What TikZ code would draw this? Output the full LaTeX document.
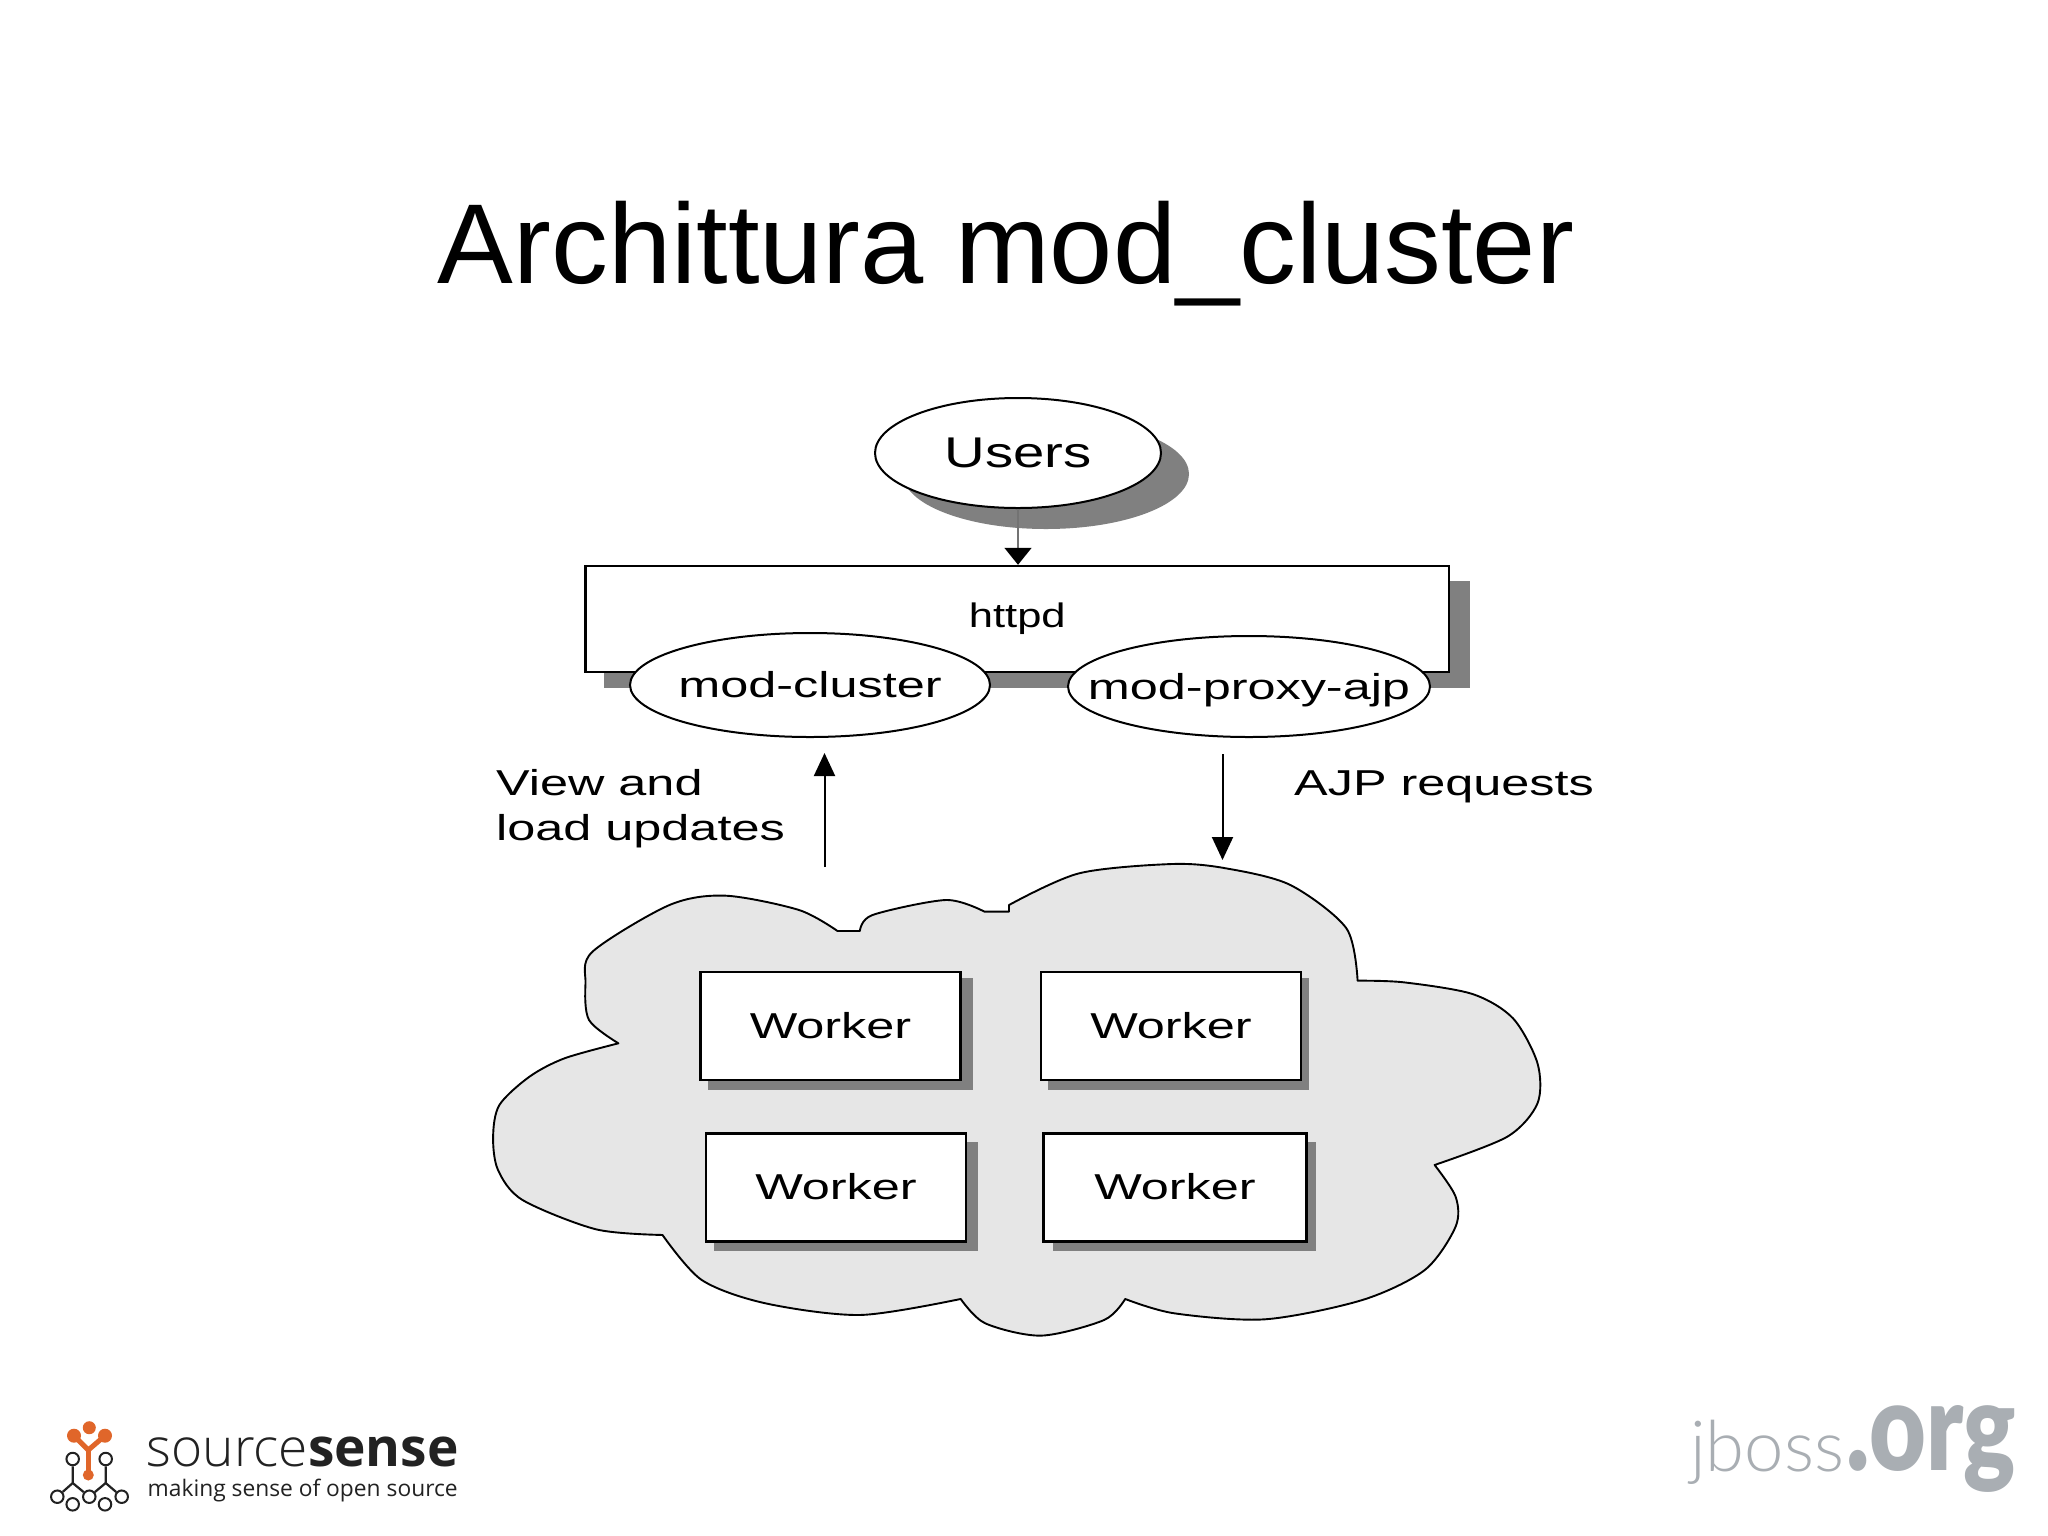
\documentclass[tikz,border=0pt]{standalone}
\usepackage{fontspec}
\usepackage{graphicx}
\setmainfont{Liberation Sans}
\newfontfamily\logofont{Open Sans}
\newfontfamily\logothin{Open Sans Light}
\newfontfamily\logolight{Lato Light}
\newfontfamily\logoblack{Lato Black}
\usetikzlibrary{shapes.geometric,arrows.meta}
\definecolor{shade}{HTML}{808080}
\definecolor{cloudgrey}{HTML}{E6E6E6}
\definecolor{logoorange}{HTML}{E0662A}
\definecolor{logodark}{HTML}{222222}
\definecolor{jbossgrey}{HTML}{A9AEB3}
\newcommand{\wdtext}[2]{\scalebox{#1}[1]{#2}}
\newcommand{\lab}[1]{\wdtext{1.40}{#1}}
\tikzset{
  x=1pt,y=-1pt,
  labelfont/.style={font=\fontsize{36}{45}\selectfont,text=black},
  boxnode/.style={draw=black,line width=2.4pt,fill=white,rectangle,inner sep=0pt,labelfont},
  ovalnode/.style={draw=black,line width=2pt,fill=white,ellipse,inner sep=0pt},
  ovaltext/.style={labelfont,inner sep=0pt},
  shadowfill/.style={fill=shade,draw=none},
  connector/.style={draw=black,line width=2pt,-{Triangle[length=23pt,width=21pt]}},
  thinconnector/.style={draw=black!55,line width=1.5pt,-{Triangle[length=17pt,width=27pt,color=black]}},
  freelabel/.style={labelfont,inner sep=0pt,align=left},
  cloudshape/.style={fill=cloudgrey,draw=black,line width=1.9pt,line join=round},
  logoring/.style={draw=logodark,line width=2pt,fill=white,circle,inner sep=0pt,minimum size=12.5pt},
  logodot/.style={fill=logoorange,circle,inner sep=0pt,draw=none},
  logotrace/.style={draw=logodark,line width=2.2pt,line join=round},
  logostem/.style={draw=logoorange,line width=5pt,line cap=round,line join=round},
}
\begin{document}
\begin{tikzpicture}
\useasboundingbox[fill=white] (0,0) rectangle (2048,1535);

% title
\node[anchor=base west,inner sep=0pt,font=\fontsize{113.6}{114}\selectfont] (title) at (437.5,283) {Archittura mod\_cluster};

% cloud
\begin{scope}[xshift=470pt,yshift=-850pt,x=0.7pt,y=-0.3333pt]
\draw[cloudshape]
  plot[smooth,tension=.5] coordinates{(770,165)(870,70)(1003,42)(1080,55)(1172,105)(1252,235)(1268,392)}
  -- plot[smooth,tension=.5] coordinates{(1268,392)(1334,397)(1432,432)(1490,505)(1525,640)(1525,760)(1482,860)(1378,945)}
  -- plot[smooth,tension=.5] coordinates{(1378,945)(1408,1040)(1408,1130)(1364,1260)(1275,1350)(1136,1408)(1006,1390)(936,1347)}
  -- plot[smooth,tension=.5] coordinates{(936,1347)(906,1410)(816,1457)(736,1420)(701,1347)}
  -- plot[smooth,tension=.5] coordinates{(701,1347)(558,1395)(422,1360)(331,1290)(275,1155)}
  -- plot[smooth,tension=.5] coordinates{(275,1155)(180,1138)(75,1050)(40,960)(33,860)(42,765)(85,680)(135,625)(212,580)}
  -- plot[smooth,tension=.5] coordinates{(212,580)(170,510)(165,400)(175,305)(285,165)(365,137)(470,180)(525,243)}
  -- (557,243)
  -- plot[smooth,tension=.5] coordinates{(557,243)(575,195)(680,150)(735,185)}
  -- (770,185) -- cycle;
\end{scope}

% shadows
\fill[shadowfill] (1046,474) ellipse [x radius=143pt,y radius=55pt];
\fill[shadowfill] (604,581) rectangle (1470,688);
\fill[shadowfill] (708,978) rectangle (972.6,1090);
\fill[shadowfill] (1047.5,978) rectangle (1309.3,1090);
\fill[shadowfill] (713.6,1142) rectangle (978.2,1251);
\fill[shadowfill] (1053,1142) rectangle (1315.6,1251);

% httpd and modules
\node[boxnode,minimum width=863.5pt,minimum height=106pt,text height=16pt,text depth=0pt,font=\fontsize{34}{34}\selectfont] (httpd) at (1017.25,619) {\wdtext{1.28}{httpd}};
\node[ovalnode,minimum width=286pt,minimum height=110pt,
      label={[ovaltext,font=\fontsize{43}{43}\selectfont,text height=28pt,text depth=0pt]center:\wdtext{1.31}{Users}}] (users) at (1018,453) {};
\node[ovalnode,minimum width=360pt,minimum height=104pt,
      label={[ovaltext,text height=24pt,text depth=0pt]center:\lab{mod-cluster}}] (modcluster) at (810,685) {};
\node[ovalnode,minimum width=362pt,minimum height=101pt,
      label={[ovaltext,text height=25pt,text depth=0pt]center:\lab{mod-proxy-ajp}}] (modproxy) at (1249,686.5) {};

% workers
\node[boxnode,minimum width=260pt,minimum height=108pt,text height=24pt,text depth=0pt] (w1) at (830.5,1026) {\lab{Worker}};
\node[boxnode,minimum width=260pt,minimum height=108pt,text height=24pt,text depth=0pt] (w2) at (1171,1026) {\lab{Worker}};
\node[boxnode,minimum width=260.4pt,minimum height=108pt,text height=24pt,text depth=0pt] (w3) at (836,1187.3) {\lab{Worker}};
\node[boxnode,minimum width=263.2pt,minimum height=108pt,text height=24pt,text depth=0pt] (w4) at (1175,1187.3) {\lab{Worker}};

% connectors
\coordinate (upstart) at (824.5,867);
\coordinate (uptip) at (824.5,753);
\coordinate (downstart) at (1222.5,754);
\coordinate (downtip) at (1222.5,860);
\draw[thinconnector] (users.south) -- (users.south |- httpd.north);
\draw[connector] (upstart) -- (uptip);
\draw[connector] (downstart) -- (downtip);

% labels
\node[freelabel,anchor=base west] (viewlabel) at (496,840) {\lab{View and}\\\lab{load updates}};
\node[freelabel,anchor=base west] (ajplabel) at (1294,795) {\lab{AJP requests}};

% sourcesense logo
\draw[logostem] (74,1435.7) -- (88.3,1450) -- (105,1435.7);
\draw[logostem] (88.3,1450) -- (88.3,1473);
\node[logodot,minimum size=13pt] (dot1) at (89.3,1427.7) {};
\node[logodot,minimum size=14pt] (dot2) at (74,1435.7) {};
\node[logodot,minimum size=14pt] (dot3) at (105,1435.7) {};
\node[logodot,minimum size=11pt] (dot4) at (88.3,1475) {};
\coordinate (kneeL) at (72.7,1483);
\coordinate (kneeR) at (105.7,1483);
\node[logoring] (ringA) at (72.7,1459) {};
\node[logoring] (ringB) at (105.7,1459) {};
\node[logoring] (ringC) at (57.3,1496.7) {};
\node[logoring] (ringD) at (121.7,1496.7) {};
\node[logoring] (ringE) at (72.7,1504.3) {};
\node[logoring] (ringF) at (105,1504.3) {};
\node[logoring] (ringG) at (89.3,1496.7) {};
\draw[logotrace] (ringA) -- (kneeL) -- (ringC);
\draw[logotrace] (kneeL) -- (ringG);
\draw[logotrace] (ringB) -- (kneeR) -- (ringD);
\draw[logotrace] (kneeR) -- (ringG);
\node[anchor=base west,inner sep=0pt,text=logodark] (srctext) at (146.5,1466)
  {\resizebox{312pt}{!}{\logothin source\logofont\textbf{sense}}};
\node[anchor=base west,inner sep=0pt,text=logodark] (tagline) at (147.5,1496)
  {\resizebox{310pt}{!}{\logofont making sense of open source}};

% jboss logo
\node[anchor=base west,inner sep=0pt,text=jbossgrey,font=\logolight\fontsize{84}{84}\selectfont] (jbosstext) at (1690,1471) {\resizebox{154pt}{!}{jboss}};
\node[anchor=base west,inner sep=0pt,text=jbossgrey,font=\logoblack\fontsize{120}{120}\selectfont] (orgtext) at (1846,1470) {\resizebox{170pt}{65pt}{.org}};
\end{tikzpicture}
\end{document}
